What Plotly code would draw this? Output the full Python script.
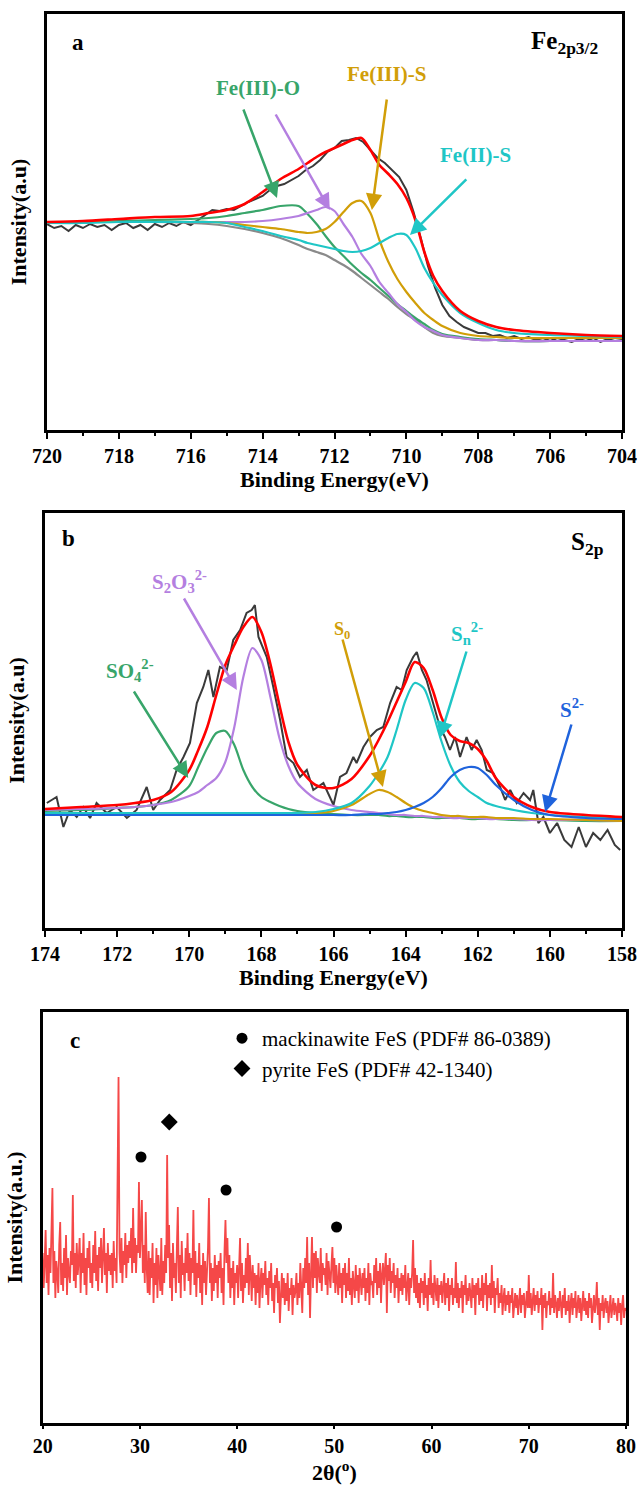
import numpy as np
import plotly.graph_objects as go

FONT = "Liberation Serif"

# ---------------- Panel a : Fe 2p3/2 XPS ----------------
E_A = [720, 719, 718, 717, 716, 715.5, 715, 714.5, 714, 713.5, 713, 712.75, 712.5, 712.25, 712,
       711.75, 711.5, 711.25, 711, 710.75, 710.5, 710.25, 710, 709.75, 709.5, 709.25, 709, 708.5,
       708, 707.5, 707, 706, 705, 704]
FIT_A = [208, 209, 211, 213, 214, 217, 220, 226, 238, 251, 261, 267, 273, 278, 282, 286, 290, 292,
         280, 265, 256, 246, 232, 210, 178, 154, 139, 119, 109, 103, 100, 97, 95, 94]
BG_A = [208, 208, 208, 208, 207, 206, 204, 201, 197, 192, 185, 181, 178, 175, 170, 165, 159, 152,
        145, 138, 131, 123, 116, 110, 103, 97, 94, 92, 90, 90, 89, 89, 89, 89]
FE3_O = [208, 208, 209, 210, 211, 212, 214, 217, 220, 224, 224, 216, 206, 194, 183, 174, 165, 157,
         150, 142, 134, 126, 119, 112, 106, 100, 96, 93, 91, 90, 89, 89, 89, 89]
FE_PURPLE = [208, 208, 208, 208, 208, 208, 208, 208, 209, 211, 214, 217, 220, 223, 219, 206, 193, 176,
             164, 148, 137, 126, 118, 109, 103, 99, 95, 92, 90, 90, 89, 89, 89, 89]
FE3_S = [208, 208, 208, 208, 208, 208, 207, 205, 203, 201, 198, 197, 198, 201, 208, 218, 227, 229,
         217, 190, 168, 151, 138, 127, 117, 110, 104, 97, 94, 93, 92, 92, 92, 92]
FE2_S = [207, 207, 208, 208, 208, 208, 207, 203, 199, 194, 190, 187, 185, 183, 181, 179, 178, 179,
         182, 187, 192, 196, 195, 182, 162, 147, 135, 117, 107, 100, 97, 95, 94, 93]
RAW_A_START, RAW_A_STEP = 720.0, -0.2
RAW_A = [206, 202, 204, 199, 205, 202, 206, 203, 205, 200,
         205, 207, 202, 205, 200, 206, 203, 207, 204, 208,
         205, 210, 215, 220, 219, 221, 220, 224, 228, 231,
         234, 240, 244, 246, 250, 254, 260, 264, 270, 278,
         282, 289, 290, 292, 288, 280, 272, 267, 260, 253,
         240, 218, 192, 164, 142, 125, 114, 108, 103, 100,
         97, 97, 94, 95, 92, 94, 91, 93, 90, 92,
         89, 92, 90, 88, 91, 89, 92, 88, 91, 89,
         90]

# ---------------- Panel b : S 2p XPS ----------------
E_B = [174, 173, 172, 171.5, 171, 170.5, 170, 169.75, 169.5, 169.25, 169, 168.75, 168.5, 168.25, 168,
       167.75, 167.5, 167.25, 167, 166.5, 166, 165.5, 165, 164.75, 164.5, 164.25, 164, 163.75, 163.5,
       163.25, 163, 162.75, 162.5, 162.25, 162, 161.75, 161.5, 161, 160.5, 160, 159, 158]
FIT_B = [119, 121, 123, 125, 128, 136, 158, 178, 201, 233, 263, 283, 301, 311, 296, 264, 223, 186, 163,
         143, 140, 149, 172, 188, 206, 226, 246, 266, 260, 238, 210, 193, 187, 185, 179, 167, 150, 131,
         121, 116, 113, 111]
SO4 = [117, 118, 120, 121, 123, 128, 142, 161, 180, 195, 197, 183, 158, 141, 131, 126, 122, 119, 117,
       115, 114, 113, 113, 113, 112, 112, 111, 111, 111, 110, 110, 110, 110, 109, 109, 109, 109, 108,
       108, 108, 107, 107]
S2O3 = [118, 119, 120, 121, 123, 126, 132, 136, 143, 150, 166, 201, 251, 280, 268, 231, 190, 162, 145,
        129, 122, 118, 116, 115, 114, 113, 113, 112, 112, 111, 111, 110, 110, 110, 110, 109, 109, 109,
        108, 108, 108, 107]
S0 = [115, 115, 115, 115, 115, 115, 115, 115, 115, 115, 115, 115, 115, 115, 115, 115, 115, 115, 115,
      115, 117, 123, 134, 138, 136, 131, 125, 120, 117, 115, 113, 112, 112, 111, 111, 111, 110, 110,
      109, 109, 108, 107]
SN = [115, 115, 115, 115, 115, 115, 115, 115, 115, 115, 115, 115, 115, 115, 115, 115, 115, 115, 115,
      116, 119, 125, 142, 155, 171, 198, 228, 245, 240, 216, 186, 162, 146, 137, 131, 125, 122, 118,
      115, 113, 111, 110]
S2 = [113, 113, 113, 113, 113, 113, 113, 113, 113, 113, 113, 113, 113, 113, 113, 113, 113, 113, 113,
      113, 113, 113, 114, 114, 115, 116, 118, 121, 125, 131, 140, 151, 158, 161, 160, 153, 143, 128,
      118, 113, 110, 109]
E_B_RAW = [173.95, 173.68, 173.49, 173.31, 173.12, 172.94, 172.75, 172.57, 172.29, 172.01, 171.73,
           171.46, 171.18, 171.0, 170.81, 170.53, 170.35, 170.16, 169.98, 169.79, 169.61, 169.47,
           169.33, 169.15, 168.96, 168.78, 168.59, 168.41, 168.27, 168.18, 168.08, 167.85, 167.67,
           167.48, 167.3, 167.11, 166.93, 166.74, 166.56, 166.28, 166.0, 165.82, 165.64, 165.45,
           165.36, 165.17, 164.99, 164.8, 164.62, 164.43, 164.25, 164.11, 163.97, 163.79, 163.69,
           163.55, 163.42, 163.23, 163.05, 162.91, 162.77, 162.63, 162.49, 162.31, 162.17, 162.03,
           161.89, 161.75, 161.57, 161.38, 161.24, 161.1, 160.92, 160.73, 160.55, 160.46, 160.32,
           160.18, 160.0, 159.8, 159.6, 159.4, 159.2, 159.0, 158.8, 158.6, 158.4, 158.2, 158.05]
RAW_B = [125, 131, 101, 118, 111, 121, 110, 125, 115, 121, 110, 118, 141, 118, 128, 138, 158, 171, 185,
         225, 241, 258, 231, 261, 258, 288, 298, 315, 318, 323, 291, 271, 241, 208, 171, 165, 151, 158,
         138, 145, 123, 151, 155, 171, 165, 181, 191, 198, 201, 225, 241, 238, 258, 271, 276, 258, 248,
         225, 201, 191, 178, 191, 171, 191, 178, 188, 178, 158, 155, 141, 128, 138, 125, 135, 128, 138,
         105, 111, 95, 105, 88, 81, 101, 81, 95, 88, 98, 83, 78]

# ---------------- Panel c : XRD ----------------
XRD_START, XRD_STEP = 20.0, 0.1
XRD_ROWS = [
    [170, 135, 160, 193, 140, 168, 128, 175, 150, 185],  # 20
    [235, 140, 172, 125, 162, 150, 130, 178, 201, 138],  # 21
    [160, 132, 175, 145, 188, 128, 165, 150, 140, 172],  # 22
    [158, 228, 142, 170, 135, 180, 148, 162, 185, 130],  # 23
    [170, 150, 190, 138, 165, 128, 175, 155, 182, 140],  # 24
    [160, 135, 178, 150, 192, 142, 168, 132, 176, 155],  # 25
    [185, 140, 162, 195, 148, 170, 130, 180, 152, 168],  # 26
    [148, 170, 135, 182, 152, 165, 140, 283, 346, 170],  # 27
    [150, 185, 140, 172, 158, 190, 145, 178, 160, 182],  # 28
    [165, 195, 150, 215, 160, 185, 150, 178, 170, 241],  # 29
    [165, 190, 223, 150, 178, 140, 211, 155, 130, 172],  # 30
    [128, 165, 145, 180, 120, 160, 138, 175, 125, 168],  # 31
    [150, 132, 185, 128, 162, 140, 178, 150, 268, 165],  # 32
    [198, 135, 170, 122, 180, 145, 160, 130, 175, 216],  # 33
    [140, 168, 125, 182, 148, 160, 132, 175, 150, 190],  # 34
    [142, 170, 128, 165, 150, 213, 138, 172, 126, 160],  # 35
    [145, 180, 130, 158, 118, 170, 140, 162, 128, 152],  # 36
    [175, 225, 140, 160, 122, 155, 132, 168, 140, 158],  # 37
    [125, 162, 145, 170, 130, 155, 118, 172, 203, 160],  # 38
    [185, 140, 168, 125, 155, 135, 162, 118, 150, 140],  # 39
    [158, 125, 150, 185, 132, 160, 120, 148, 135, 165],  # 40
    [140, 180, 128, 168, 150, 122, 158, 135, 150, 118],  # 41
    [148, 130, 160, 115, 142, 155, 125, 150, 138, 162],  # 42
    [128, 145, 118, 152, 135, 160, 122, 140, 110, 148],  # 43
    [135, 155, 120, 142, 100, 138, 150, 125, 145, 118],  # 44
    [140, 122, 150, 112, 135, 128, 145, 108, 138, 125],  # 45
    [132, 150, 118, 140, 125, 160, 130, 110, 155, 135],  # 46
    [165, 140, 186, 128, 160, 105, 150, 186, 135, 170],  # 47
    [145, 172, 130, 165, 150, 140, 175, 132, 160, 148],  # 48
    [155, 138, 170, 128, 162, 145, 135, 158, 176, 140],  # 49
    [165, 130, 158, 142, 128, 160, 135, 150, 120, 155],  # 50
    [138, 160, 125, 150, 132, 165, 128, 145, 118, 152],  # 51
    [140, 125, 158, 132, 148, 120, 155, 138, 128, 150],  # 52
    [135, 155, 122, 145, 130, 160, 118, 150, 138, 142],  # 53
    [125, 158, 140, 165, 128, 152, 135, 160, 120, 148],  # 54
    [160, 138, 155, 170, 110, 158, 142, 165, 130, 152],  # 55
    [140, 160, 125, 148, 135, 155, 120, 145, 132, 150],  # 56
    [128, 148, 135, 158, 122, 140, 150, 118, 145, 135],  # 57
    [150, 183, 130, 155, 125, 148, 120, 140, 115, 145],  # 58
    [130, 142, 118, 150, 125, 138, 112, 145, 128, 163],  # 59
    [125, 140, 118, 148, 130, 122, 145, 115, 138, 128],  # 60
    [142, 120, 135, 150, 118, 140, 125, 145, 112, 138],  # 61
    [128, 145, 118, 135, 125, 161, 120, 140, 115, 135],  # 62
    [125, 142, 110, 138, 128, 148, 118, 135, 122, 140],  # 63
    [130, 115, 145, 125, 138, 108, 140, 128, 145, 118],  # 64
    [135, 122, 148, 115, 140, 128, 150, 112, 138, 125],  # 65
    [140, 118, 158, 125, 142, 110, 135, 128, 145, 115],  # 66
    [130, 120, 138, 108, 125, 135, 112, 128, 118, 132],  # 67
    [110, 128, 120, 135, 105, 125, 130, 115, 128, 108],  # 68
    [122, 135, 110, 128, 118, 130, 105, 125, 132, 115],  # 69
    [148, 115, 130, 108, 125, 135, 112, 128, 118, 132],  # 70
    [110, 125, 118, 135, 93, 128, 115, 130, 105, 122],   # 71
    [118, 132, 108, 125, 115, 150, 110, 128, 120, 105],  # 72
    [125, 112, 132, 118, 105, 128, 115, 135, 108, 122],  # 73
    [112, 128, 100, 120, 130, 108, 125, 115, 132, 105],  # 74
    [118, 128, 110, 125, 102, 120, 132, 112, 125, 108],  # 75
    [122, 105, 130, 115, 125, 100, 118, 128, 110, 120],  # 76
    [141, 108, 125, 93, 120, 112, 128, 105, 118, 125],   # 77
    [110, 122, 100, 118, 128, 105, 115, 125, 108, 120],  # 78
    [115, 102, 125, 110, 120, 98, 118, 128, 105, 115],   # 79
    [112],                                               # 80
]
MACK_2THETA = [30.11, 38.86, 50.23]
MACK_MARK_Y = [266, 233, 196]
PYR_2THETA = [33.02]
PYR_MARK_Y = [301]

# ---------------- colours ----------------
C_RAW = "#3a3a3a"
C_FIT = "#ff0000"
C_GREEN = "#38a56a"
C_PURPLE = "#b47fe0"
C_GOLD = "#d19e08"
C_CYAN = "#1fc6c6"
C_GRAY = "#8a8a8a"
C_BLUE = "#1f63dc"
C_XRD = "#f54848"

raw_a_x = [round(RAW_A_START + RAW_A_STEP * i, 2) for i in range(len(RAW_A))]
xrd_y = [v for row in XRD_ROWS for v in row]
xrd_x = [round(XRD_START + XRD_STEP * i, 2) for i in range(len(xrd_y))]

fig = go.Figure()

def line(x, y, color, width, axis, shape="spline"):
    xa, ya = axis
    fig.add_trace(go.Scatter(x=x, y=y, mode="lines", xaxis=xa, yaxis=ya, showlegend=False,
                             line=dict(color=color, width=width, shape=shape, smoothing=0.8),
                             hoverinfo="skip"))

A = ("x", "y")
B = ("x2", "y2")

line(raw_a_x, RAW_A, C_RAW, 2, A, "linear")
line(E_A, BG_A, C_GRAY, 2.2, A)
line(E_A, FE3_O, C_GREEN, 2.2, A)
line(E_A, FE_PURPLE, C_PURPLE, 2.2, A)
line(E_A, FE3_S, C_GOLD, 2.2, A)
line(E_A, FE2_S, C_CYAN, 2.2, A)
line(E_A, FIT_A, C_FIT, 2.6, A)

line(E_B_RAW, RAW_B, C_RAW, 2, B, "linear")
line(E_B, SO4, C_GREEN, 2.2, B)
line(E_B, S2O3, C_PURPLE, 2.2, B)
line(E_B, S0, C_GOLD, 2.2, B)
line(E_B, SN, C_CYAN, 2.2, B)
line(E_B, S2, C_BLUE, 2.2, B)
line(E_B, FIT_B, C_FIT, 2.6, B)

fig.add_trace(go.Scatter(x=xrd_x, y=xrd_y, mode="lines", xaxis="x3", yaxis="y3", showlegend=False,
                         line=dict(color=C_XRD, width=1.8), hoverinfo="skip"))
fig.add_trace(go.Scatter(x=MACK_2THETA, y=MACK_MARK_Y, mode="markers", xaxis="x3", yaxis="y3",
                         name="mackinawite FeS (PDF# 86-0389)",
                         marker=dict(symbol="circle", size=11, color="black")))
fig.add_trace(go.Scatter(x=PYR_2THETA, y=PYR_MARK_Y, mode="markers", xaxis="x3", yaxis="y3",
                         name="pyrite FeS (PDF# 42-1340)",
                         marker=dict(symbol="diamond", size=13, color="black")))

H = 1494
W = 639

def xdom(l, r):
    return [l / W, r / W]

def ydom(top, bottom):
    return [1 - bottom / H, 1 - top / H]

tickfont = dict(family=FONT, size=20, color="black", weight="bold")
titlefont = dict(family=FONT, size=22, color="black", weight="bold")

def xaxis(dom, anchor, rng, tickvals, title, minor=True, ticklen=6):
    d = dict(domain=dom, anchor=anchor, range=rng, tickvals=tickvals, showline=True, linewidth=2.5,
             linecolor="black", mirror=True, ticks="outside", ticklen=ticklen, tickwidth=2,
             tickcolor="black", tickfont=tickfont, showgrid=False, zeroline=False,
             title=dict(text=title, font=titlefont, standoff=5), automargin=False)
    if minor:
        d["minor"] = dict(dtick=1, ticklen=3, tickwidth=2, ticks="outside", tickcolor="black",
                          showgrid=False)
    return d

def yaxis(dom, anchor, rng, title):
    return dict(domain=dom, anchor=anchor, range=rng, showline=True, linewidth=2.5, linecolor="black",
                mirror=True, ticks="", showticklabels=False, showgrid=False, zeroline=False,
                title=dict(text=title, font=titlefont, standoff=12), automargin=False)

fig.update_layout(
    width=W, height=H, margin=dict(l=0, r=0, t=0, b=0),
    paper_bgcolor="white", plot_bgcolor="white",
    font=dict(family=FONT, color="black"),
    xaxis=xaxis(xdom(47, 622), "y", [720, 704], list(range(720, 703, -2)), "Binding Energy(eV)"),
    yaxis=yaxis(ydom(14, 430), "x", [0, 416], "Intensity(a.u)"),
    xaxis2=xaxis(xdom(45, 622), "y2", [174, 158], list(range(174, 157, -2)), "Binding Energy(eV)"),
    yaxis2=yaxis(ydom(513, 928), "x2", [0, 415], "Intensity(a.u)"),
    xaxis3=xaxis(xdom(42.7, 626), "y3", [20, 80], list(range(20, 81, 10)), "2θ(<sup>o</sup>)",
                 minor=False, ticklen=3),
    yaxis3=yaxis(ydom(1012, 1423), "x3", [0, 411], "Intensity(a.u.)"),
    showlegend=True,
    legend=dict(x=222 / W, y=1 - 1018 / H, xanchor="left", yanchor="top",
                font=dict(family=FONT, size=21, color="black"), bgcolor="rgba(0,0,0,0)",
                borderwidth=0, tracegroupgap=0),
)

ann = []

def label(text, x, y, xr, yr, color="black", size=21, xanchor="center"):
    ann.append(dict(text=text, x=x, y=y, xref=xr, yref=yr, showarrow=False, xanchor=xanchor,
                    font=dict(family=FONT, size=size, color=color, weight="bold")))

def arrow(tip, tail, xr, yr, color):
    ann.append(dict(text="", x=tip[0], y=tip[1], ax=tail[0], ay=tail[1], xref=xr, yref=yr,
                    axref=xr, ayref=yr, showarrow=True, arrowhead=2, arrowsize=1.3,
                    arrowwidth=2.5, arrowcolor=color, standoff=0))

# panel a
label("a", 719.14, 388, "x", "y", size=23)
label("Fe<sub>2p3/2</sub>", 705.6, 388, "x", "y", size=25)
label("Fe(III)-O", 714.13, 342, "x", "y", C_GREEN)
label("Fe(III)-S", 710.54, 356, "x", "y", C_GOLD)
label("Fe(II)-S", 708.09, 275, "x", "y", C_CYAN)
arrow((713.6, 232), (714.55, 322), "x", "y", C_GREEN)
arrow((712.13, 220), (713.66, 317), "x", "y", C_PURPLE)
arrow((710.96, 220), (710.54, 332), "x", "y", C_GOLD)
arrow((709.9, 195), (708.29, 252), "x", "y", C_CYAN)

# panel b
label("b", 173.36, 390, "x2", "y2", size=23)
label("S<sub>2p</sub>", 158.95, 385, "x2", "y2", size=25)
label("SO<sub>4</sub><sup>2-</sup>", 171.64, 258, "x2", "y2", C_GREEN)
label("S<sub>2</sub>O<sub>3</sub><sup>2-</sup>", 170.26, 347, "x2", "y2", C_PURPLE)
label("S<sub>0</sub>", 165.76, 298, "x2", "y2", C_GOLD, size=18)
label("S<sub>n</sub><sup>2-</sup>", 162.3, 295, "x2", "y2", C_CYAN)
label("S<sup>2-</sup>", 159.39, 220, "x2", "y2", C_BLUE)
arrow((170.03, 150), (171.56, 238), "x2", "y2", C_GREEN)
arrow((168.68, 238), (170.17, 331), "x2", "y2", C_PURPLE)
arrow((164.63, 141), (165.76, 290), "x2", "y2", C_GOLD)
arrow((163.05, 190), (162.30, 278), "x2", "y2", C_CYAN)
arrow((160.13, 116), (159.39, 205), "x2", "y2", C_BLUE)

# panel c
label("c", 23.3, 383, "x3", "y3", size=23)

fig.update_layout(annotations=ann)
fig.write_html("out.html", config={"displayModeBar": False},
               post_script="document.body.style.margin='0px';document.body.style.padding='0px';")
